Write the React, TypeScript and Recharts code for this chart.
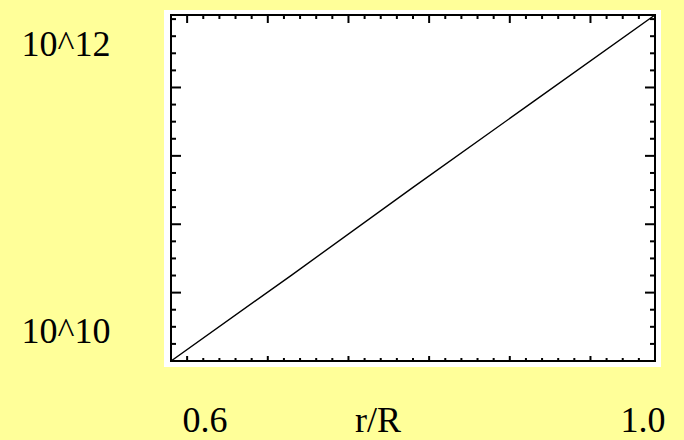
import React from 'react';
import { LineChart, Line, XAxis, YAxis } from 'recharts';

// Radial position (r/R) and log10 of the plotted quantity
const rOverR = [0.6, 0.7, 0.8, 0.9, 1.0];
const logValue = [9.5, 10.13, 10.77, 11.4, 12.03];

// Axis ranges
const X_DOMAIN: [number, number] = [0.6, 1.0];
const Y_DOMAIN: [number, number] = [9.5, 12.03];

// Frame ticks: x has 30 minor divisions with a major every fifth one, y a minor every 1/8 decade
const X_STEP = 0.4 / 30;
const xTicks = Array.from({ length: 29 }, (_, i) => +(0.6 + (i + 1) * X_STEP).toFixed(6));
const xMajor = [1, 6, 11, 16, 21, 26].map((i) => +(0.6 + i * X_STEP).toFixed(6));
const yTicks = [9.625, 9.75, 9.875, 10, 10.125, 10.25, 10.375, 10.5, 10.625, 10.75, 10.875, 11,
  11.125, 11.25, 11.375, 11.5, 11.625, 11.75, 11.875, 12];
const yMajor = [10, 10.5, 11, 11.5];

// Outside labels
const yLabels = ['10^12', '10^10'];
const xLabels = ['0.6', 'r/R', '1.0'];

const data = rOverR.map((r, i) => ({ r, v: logValue[i] }));

const isMajor = (list: number[], v: number) => list.some((m) => Math.abs(m - v) < 1e-4);

type Side = 'top' | 'bottom' | 'left' | 'right';

const makeTick = (side: Side, majors: number[], majorLen: number, minorLen: number) =>
  (props: any) => {
    const { x, y, payload } = props;
    const len = isMajor(majors, payload.value) ? majorLen : minorLen;
    let x2 = x;
    let y2 = y;
    if (side === 'top') y2 = y + len;
    if (side === 'bottom') y2 = y - len;
    if (side === 'left') x2 = x + len;
    if (side === 'right') x2 = x - len;
    return <line x1={x} y1={y} x2={x2} y2={y2} stroke="#000" strokeWidth={2} />;
  };

const frame = { stroke: '#000', strokeWidth: 2, strokeLinecap: 'square' as const };
const font = '"Liberation Serif", "Times New Roman", serif';

export default function App() {
  return (
    <div style={{ position: 'fixed', left: 0, top: 0, width: 684, height: 440, background: '#FFFF99', overflow: 'hidden' }}>
      <div style={{ position: 'absolute', left: 164, top: 10, width: 497, height: 357, background: '#FFFFFF' }} />
      <div style={{ position: 'absolute', left: 0, top: 0 }}>
        <LineChart width={684} height={440} data={data} margin={{ top: 14, left: 170, right: 28, bottom: 78 }}>
          <XAxis xAxisId="bottom" dataKey="r" type="number" domain={X_DOMAIN} allowDataOverflow
            ticks={xTicks} interval={0} height={1} tickSize={0} tickMargin={0}
            axisLine={frame} tickLine={false} tick={makeTick('bottom', xMajor, 5, 3)} />
          <XAxis xAxisId="top" orientation="top" dataKey="r" type="number" domain={X_DOMAIN} allowDataOverflow
            ticks={xTicks} interval={0} height={1} tickSize={0} tickMargin={0}
            axisLine={frame} tickLine={false} tick={makeTick('top', xMajor, 8, 4)} />
          <YAxis yAxisId="left" type="number" domain={Y_DOMAIN} allowDataOverflow
            ticks={yTicks} interval={0} width={1} tickSize={0} tickMargin={0}
            axisLine={frame} tickLine={false} tick={makeTick('left', yMajor, 10, 5)} />
          <YAxis yAxisId="right" orientation="right" type="number" domain={Y_DOMAIN} allowDataOverflow
            ticks={yTicks} interval={0} width={1} tickSize={0} tickMargin={0}
            axisLine={frame} tickLine={false} tick={makeTick('right', yMajor, 10, 5)} />
          <Line xAxisId="bottom" yAxisId="left" type="linear" dataKey="v" stroke="#000" strokeWidth={1.4}
            dot={false} activeDot={false} isAnimationActive={false} />
        </LineChart>
      </div>
      <svg width={684} height={440} style={{ position: 'absolute', left: 0, top: 0 }}>
        <g fontFamily={font} fontSize={36} fill="#000">
          <text x={66} y={56} textAnchor="middle">{yLabels[0]}</text>
          <text x={66} y={343} textAnchor="middle">{yLabels[1]}</text>
          <text x={205} y={432} textAnchor="middle">{xLabels[0]}</text>
          <text x={378} y={432} textAnchor="middle">{xLabels[1]}</text>
          <text x={643} y={432} textAnchor="middle">{xLabels[2]}</text>
        </g>
      </svg>
    </div>
  );
}
